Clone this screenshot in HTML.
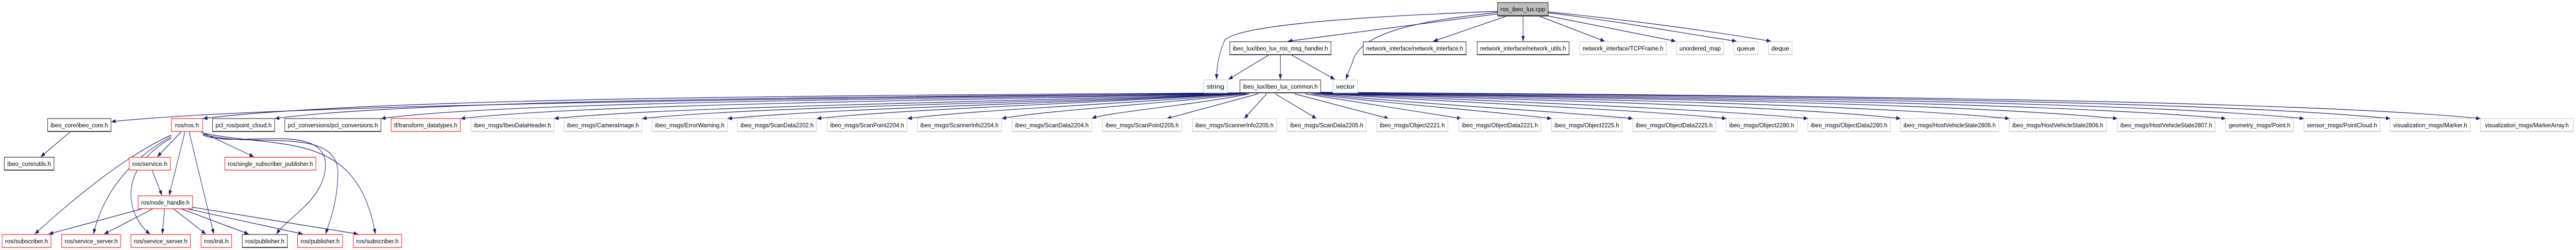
<!DOCTYPE html>
<html><head><meta charset="utf-8">
<style>
html,body{margin:0;padding:0;background:#fff;width:100%;height:100%;overflow:hidden;}
svg{display:block;width:100vw;height:100vh;}
text{font-family:"Liberation Sans",sans-serif;font-size:12px;fill:#000;text-anchor:middle;}
.b{fill:#fff;stroke:#000;stroke-width:1;}
.g{fill:#fff;stroke:#bfbfbf;stroke-width:1;}
.r{fill:#fff;stroke:#ff2020;stroke-width:1.3;}
.sb{stroke:#404040;stroke-width:2;}
.sg{stroke:#d0d0d0;stroke-width:2;}
.e path{fill:none;stroke:#191970;stroke-width:1.2;}
</style></head>
<body>
<svg viewBox="0 0 6060 485" preserveAspectRatio="none" xmlns="http://www.w3.org/2000/svg">
<defs>
<marker id="a" markerWidth="10" markerHeight="8" refX="10" refY="4" orient="auto" markerUnits="userSpaceOnUse">
<path d="M0,0 L10,4 L0,8 z" fill="#191970"/>
</marker>
</defs>
<g class="e">
<path marker-end="url(#a)" d="M3523,27 L3030,80"/>
<path marker-end="url(#a)" d="M3545,31 L3372,80"/>
<path marker-end="url(#a)" d="M3583,31 L3583,80"/>
<path marker-end="url(#a)" d="M3620,31 L3775,80"/>
<path marker-end="url(#a)" d="M3642,31 L3942,80"/>
<path marker-end="url(#a)" d="M3642,25 C3800,40 3960,65 4085,80"/>
<path marker-end="url(#a)" d="M3642,23 C3850,40 4060,65 4166,80"/>
<path marker-end="url(#a)" d="M3523,22 C3100,35 2895,55 2880,80 C2864,110 2862,140 2862,154"/>
<path marker-end="url(#a)" d="M3523,24 C3350,40 3200,60 3182,120 L3166,154"/>
<path marker-end="url(#a)" d="M2986,106 L2890,154"/>
<path marker-end="url(#a)" d="M3012,106 L3012,154"/>
<path marker-end="url(#a)" d="M3037,106 L3140,154"/>
<path marker-end="url(#a)" d="M2920,180 C2200,190 700,198 262,236"/>
<path marker-end="url(#a)" d="M2920,180 C2200,185 900,186 478,230"/>
<path marker-end="url(#a)" d="M2920,181 C2200,188 1000,190 647,230"/>
<path marker-end="url(#a)" d="M2920,181 C2300,192 1200,195 897,230"/>
<path marker-end="url(#a)" d="M2922,181 C2300,195 1400,200 1084,230"/>
<path marker-end="url(#a)" d="M2924,181 C2400,198 1600,205 1304,230"/>
<path marker-end="url(#a)" d="M2926,181 C2500,200 1800,205 1511,230"/>
<path marker-end="url(#a)" d="M2928,181 C2550,200 2000,208 1712,230"/>
<path marker-end="url(#a)" d="M2930,181 C2600,200 2150,210 1922,230"/>
<path marker-end="url(#a)" d="M2932,181 C2700,200 2300,212 2135,230"/>
<path marker-end="url(#a)" d="M2935,182 C2750,200 2450,215 2357,230"/>
<path marker-end="url(#a)" d="M2940,182 C2800,205 2600,218 2569,230"/>
<path marker-end="url(#a)" d="M2960,182 L2745,230"/>
<path marker-end="url(#a)" d="M2980,182 L2927,230"/>
<path marker-end="url(#a)" d="M3000,182 L3097,230"/>
<path marker-end="url(#a)" d="M3045,182 L3267,230"/>
<path marker-end="url(#a)" d="M3070,182 L3438,230"/>
<path marker-end="url(#a)" d="M3085,182 C3250,200 3500,215 3650,230"/>
<path marker-end="url(#a)" d="M3092,181 C3300,200 3650,215 3841,230"/>
<path marker-end="url(#a)" d="M3096,181 C3400,198 3850,212 4061,230"/>
<path marker-end="url(#a)" d="M3100,181 C3500,196 4000,210 4253,230"/>
<path marker-end="url(#a)" d="M3102,181 C3600,194 4200,205 4471,230"/>
<path marker-end="url(#a)" d="M3104,181 C3700,192 4400,203 4727,230"/>
<path marker-end="url(#a)" d="M3105,181 C3800,190 4600,200 4981,230"/>
<path marker-end="url(#a)" d="M3106,180 C3900,190 4800,198 5236,230"/>
<path marker-end="url(#a)" d="M3106,180 C4000,188 5000,196 5420,230"/>
<path marker-end="url(#a)" d="M3107,179 C4100,186 5200,195 5623,230"/>
<path marker-end="url(#a)" d="M3107,179 C4200,185 5400,194 5835,230"/>
<path marker-end="url(#a)" d="M165,256 L96,304"/>
<path marker-end="url(#a)" d="M426,256 L370,304"/>
<path marker-end="url(#a)" d="M435,256 L398,379"/>
<path marker-end="url(#a)" d="M445,256 L503,454"/>
<path marker-end="url(#a)" d="M473,256 L597,304"/>
<path marker-end="url(#a)" d="M403,262 C300,300 180,380 82,454"/>
<path marker-end="url(#a)" d="M403,265 C280,320 235,400 220,454"/>
<path marker-end="url(#a)" d="M403,268 C270,330 300,420 353,454"/>
<path marker-end="url(#a)" d="M477,262 C560,290 780,230 765,330 C755,390 680,420 650,454"/>
<path marker-end="url(#a)" d="M477,260 C590,290 800,240 795,340 C792,400 775,430 766,454"/>
<path marker-end="url(#a)" d="M477,258 C660,290 840,250 883,454"/>
<path marker-end="url(#a)" d="M358,331 L381,379"/>
<path marker-end="url(#a)" d="M335,405 L115,454"/>
<path marker-end="url(#a)" d="M360,405 L245,454"/>
<path marker-end="url(#a)" d="M387,405 L382,454"/>
<path marker-end="url(#a)" d="M408,405 L484,454"/>
<path marker-end="url(#a)" d="M426,405 L585,454"/>
<path marker-end="url(#a)" d="M440,405 L712,454"/>
<path marker-end="url(#a)" d="M453,402 L842,454"/>
</g>

<g>
<rect x="3523" y="5" width="119" height="25" fill="#bfbfbf" stroke="#000"/><line class="sb" x1="3523" y1="31" x2="3643" y2="31"/><text x="3582.5" y="22" textLength="105" lengthAdjust="spacingAndGlyphs">ros_ibeo_lux.cpp</text>

<rect class="b" x="2893" y="81" width="238" height="25"/><line class="sb" x1="2893" y1="106" x2="3132" y2="106"/><text x="3012" y="98" textLength="224" lengthAdjust="spacingAndGlyphs">ibeo_lux/ibeo_lux_ros_msg_handler.h</text>
<rect class="b" x="3207" y="81" width="242" height="25"/><line class="sb" x1="3207" y1="106" x2="3450" y2="106"/><text x="3328" y="98" textLength="228" lengthAdjust="spacingAndGlyphs">network_interface/network_interface.h</text>
<rect class="b" x="3475" y="81" width="216" height="25"/><line class="sb" x1="3475" y1="106" x2="3692" y2="106"/><text x="3583" y="98" textLength="202" lengthAdjust="spacingAndGlyphs">network_interface/network_utils.h</text>
<rect class="g" x="3716" y="81" width="204" height="25"/><line class="sg" x1="3716" y1="106" x2="3921" y2="106"/><text x="3818" y="98" textLength="190" lengthAdjust="spacingAndGlyphs">network_interface/TCPFrame.h</text>
<rect class="g" x="3944" y="81" width="111" height="25"/><line class="sg" x1="3944" y1="106" x2="4056" y2="106"/><text x="3999.5" y="98" textLength="97" lengthAdjust="spacingAndGlyphs">unordered_map</text>
<rect class="g" x="4079" y="81" width="57" height="25"/><line class="sg" x1="4079" y1="106" x2="4137" y2="106"/><text x="4107.5" y="98" textLength="43" lengthAdjust="spacingAndGlyphs">queue</text>
<rect class="g" x="4160" y="81" width="56" height="25"/><line class="sg" x1="4160" y1="106" x2="4217" y2="106"/><text x="4188" y="98" textLength="42" lengthAdjust="spacingAndGlyphs">deque</text>

<rect class="g" x="2832" y="155" width="55" height="25"/><line class="sg" x1="2832" y1="180" x2="2888" y2="180"/><text x="2859.5" y="172" textLength="41" lengthAdjust="spacingAndGlyphs">string</text>
<rect class="b" x="2917" y="155" width="190" height="25"/><line class="sb" x1="2917" y1="180" x2="3108" y2="180"/><text x="3012" y="172" textLength="176" lengthAdjust="spacingAndGlyphs">ibeo_lux/ibeo_lux_common.h</text>
<rect class="g" x="3136" y="155" width="58" height="25"/><line class="sg" x1="3136" y1="180" x2="3195" y2="180"/><text x="3165" y="172" textLength="44" lengthAdjust="spacingAndGlyphs">vector</text>

<rect class="b" x="112" y="230" width="149" height="25"/><line class="sb" x1="112" y1="255" x2="262" y2="255"/><text x="186.5" y="247" textLength="135" lengthAdjust="spacingAndGlyphs">ibeo_core/ibeo_core.h</text>
<rect class="r" x="403" y="230" width="74" height="25"/><text x="440" y="247" textLength="56" lengthAdjust="spacingAndGlyphs">ros/ros.h</text>
<rect class="b" x="500" y="230" width="146" height="25"/><line class="sb" x1="500" y1="255" x2="647" y2="255"/><text x="573" y="247" textLength="132" lengthAdjust="spacingAndGlyphs">pcl_ros/point_cloud.h</text>
<rect class="b" x="670" y="230" width="226" height="25"/><line class="sb" x1="670" y1="255" x2="897" y2="255"/><text x="783" y="247" textLength="212" lengthAdjust="spacingAndGlyphs">pcl_conversions/pcl_conversions.h</text>
<rect class="r" x="920" y="230" width="163" height="25"/><text x="1001.5" y="247" textLength="149" lengthAdjust="spacingAndGlyphs">tf/transform_datatypes.h</text>
<rect class="g" x="1108" y="230" width="195" height="25"/><line class="sg" x1="1108" y1="255" x2="1304" y2="255"/><text x="1205.5" y="247" textLength="181" lengthAdjust="spacingAndGlyphs">ibeo_msgs/IbeoDataHeader.h</text>
<rect class="g" x="1327" y="230" width="183" height="25"/><line class="sg" x1="1327" y1="255" x2="1511" y2="255"/><text x="1418.5" y="247" textLength="169" lengthAdjust="spacingAndGlyphs">ibeo_msgs/CameraImage.h</text>
<rect class="g" x="1534" y="230" width="177" height="25"/><line class="sg" x1="1534" y1="255" x2="1712" y2="255"/><text x="1622.5" y="247" textLength="163" lengthAdjust="spacingAndGlyphs">ibeo_msgs/ErrorWarning.h</text>
<rect class="g" x="1735" y="230" width="186" height="25"/><line class="sg" x1="1735" y1="255" x2="1922" y2="255"/><text x="1828" y="247" textLength="172" lengthAdjust="spacingAndGlyphs">ibeo_msgs/ScanData2202.h</text>
<rect class="g" x="1946" y="230" width="188" height="25"/><line class="sg" x1="1946" y1="255" x2="2135" y2="255"/><text x="2040" y="247" textLength="174" lengthAdjust="spacingAndGlyphs">ibeo_msgs/ScanPoint2204.h</text>
<rect class="g" x="2158" y="230" width="198" height="25"/><line class="sg" x1="2158" y1="255" x2="2357" y2="255"/><text x="2257" y="247" textLength="184" lengthAdjust="spacingAndGlyphs">ibeo_msgs/ScannerInfo2204.h</text>
<rect class="g" x="2381" y="230" width="187" height="25"/><line class="sg" x1="2381" y1="255" x2="2569" y2="255"/><text x="2474.5" y="247" textLength="173" lengthAdjust="spacingAndGlyphs">ibeo_msgs/ScanData2204.h</text>
<rect class="g" x="2594" y="230" width="186" height="25"/><line class="sg" x1="2594" y1="255" x2="2781" y2="255"/><text x="2687" y="247" textLength="172" lengthAdjust="spacingAndGlyphs">ibeo_msgs/ScanPoint2205.h</text>
<rect class="g" x="2805" y="230" width="198" height="25"/><line class="sg" x1="2805" y1="255" x2="3004" y2="255"/><text x="2904" y="247" textLength="184" lengthAdjust="spacingAndGlyphs">ibeo_msgs/ScannerInfo2205.h</text>
<rect class="g" x="3028" y="230" width="186" height="25"/><line class="sg" x1="3028" y1="255" x2="3215" y2="255"/><text x="3121" y="247" textLength="172" lengthAdjust="spacingAndGlyphs">ibeo_msgs/ScanData2205.h</text>
<rect class="g" x="3239" y="230" width="167" height="25"/><line class="sg" x1="3239" y1="255" x2="3407" y2="255"/><text x="3322.5" y="247" textLength="153" lengthAdjust="spacingAndGlyphs">ibeo_msgs/Object2221.h</text>
<rect class="g" x="3432" y="230" width="193" height="25"/><line class="sg" x1="3432" y1="255" x2="3626" y2="255"/><text x="3528.5" y="247" textLength="179" lengthAdjust="spacingAndGlyphs">ibeo_msgs/ObjectData2221.h</text>
<rect class="g" x="3650" y="230" width="166" height="25"/><line class="sg" x1="3650" y1="255" x2="3817" y2="255"/><text x="3733" y="247" textLength="152" lengthAdjust="spacingAndGlyphs">ibeo_msgs/Object2225.h</text>
<rect class="g" x="3841" y="230" width="195" height="25"/><line class="sg" x1="3841" y1="255" x2="4037" y2="255"/><text x="3938.5" y="247" textLength="181" lengthAdjust="spacingAndGlyphs">ibeo_msgs/ObjectData2225.h</text>
<rect class="g" x="4061" y="230" width="167" height="25"/><line class="sg" x1="4061" y1="255" x2="4229" y2="255"/><text x="4144.5" y="247" textLength="153" lengthAdjust="spacingAndGlyphs">ibeo_msgs/Object2280.h</text>
<rect class="g" x="4253" y="230" width="194" height="25"/><line class="sg" x1="4253" y1="255" x2="4448" y2="255"/><text x="4350" y="247" textLength="180" lengthAdjust="spacingAndGlyphs">ibeo_msgs/ObjectData2280.h</text>
<rect class="g" x="4471" y="230" width="231" height="25"/><line class="sg" x1="4471" y1="255" x2="4703" y2="255"/><text x="4586.5" y="247" textLength="217" lengthAdjust="spacingAndGlyphs">ibeo_msgs/HostVehicleState2805.h</text>
<rect class="g" x="4727" y="230" width="228" height="25"/><line class="sg" x1="4727" y1="255" x2="4956" y2="255"/><text x="4841" y="247" textLength="214" lengthAdjust="spacingAndGlyphs">ibeo_msgs/HostVehicleState2806.h</text>
<rect class="g" x="4981" y="230" width="230" height="25"/><line class="sg" x1="4981" y1="255" x2="5212" y2="255"/><text x="5096" y="247" textLength="216" lengthAdjust="spacingAndGlyphs">ibeo_msgs/HostVehicleState2807.h</text>
<rect class="g" x="5236" y="230" width="159" height="25"/><line class="sg" x1="5236" y1="255" x2="5396" y2="255"/><text x="5315.5" y="247" textLength="145" lengthAdjust="spacingAndGlyphs">geometry_msgs/Point.h</text>
<rect class="g" x="5420" y="230" width="179" height="25"/><line class="sg" x1="5420" y1="255" x2="5600" y2="255"/><text x="5509.5" y="247" textLength="165" lengthAdjust="spacingAndGlyphs">sensor_msgs/PointCloud.h</text>
<rect class="g" x="5623" y="230" width="188" height="25"/><line class="sg" x1="5623" y1="255" x2="5812" y2="255"/><text x="5717" y="247" textLength="174" lengthAdjust="spacingAndGlyphs">visualization_msgs/Marker.h</text>
<rect class="g" x="5835" y="230" width="219" height="25"/><line class="sg" x1="5835" y1="255" x2="6055" y2="255"/><text x="5944.5" y="247" textLength="197" lengthAdjust="spacingAndGlyphs">visualization_msgs/MarkerArray.h</text>

<rect class="b" x="10" y="305" width="117" height="25"/><line class="sb" x1="10" y1="330" x2="128" y2="330"/><text x="68.5" y="322" textLength="103" lengthAdjust="spacingAndGlyphs">ibeo_core/utils.h</text>
<rect class="r" x="304" y="305" width="97" height="25"/><text x="352.5" y="322" textLength="83" lengthAdjust="spacingAndGlyphs">ros/service.h</text>
<rect class="r" x="529" y="305" width="214" height="25"/><text x="636" y="322" textLength="200" lengthAdjust="spacingAndGlyphs">ros/single_subscriber_publisher.h</text>

<rect class="r" x="325" y="380" width="128" height="25"/><text x="389" y="397" textLength="114" lengthAdjust="spacingAndGlyphs">ros/node_handle.h</text>

<rect class="r" x="5" y="455" width="115" height="25"/><text x="62.5" y="472" textLength="101" lengthAdjust="spacingAndGlyphs">ros/subscriber.h</text>
<rect class="r" x="145" y="455" width="139" height="25"/><text x="214.5" y="472" textLength="125" lengthAdjust="spacingAndGlyphs">ros/service_server.h</text>
<rect class="r" x="308" y="455" width="140" height="25"/><text x="378" y="472" textLength="126" lengthAdjust="spacingAndGlyphs">ros/service_server.h</text>
<rect class="r" x="473" y="455" width="72" height="25"/><text x="509" y="472" textLength="58" lengthAdjust="spacingAndGlyphs">ros/init.h</text>
<rect class="b" x="570" y="455" width="106" height="25"/><line class="sb" x1="570" y1="480" x2="677" y2="480"/><text x="623" y="472" textLength="92" lengthAdjust="spacingAndGlyphs">ros/publisher.h</text>
<rect class="r" x="700" y="455" width="106" height="25"/><text x="753" y="472" textLength="92" lengthAdjust="spacingAndGlyphs">ros/publisher.h</text>
<rect class="r" x="831" y="455" width="114" height="25"/><text x="888" y="472" textLength="100" lengthAdjust="spacingAndGlyphs">ros/subscriber.h</text>
</g>
</svg>
</body></html>
